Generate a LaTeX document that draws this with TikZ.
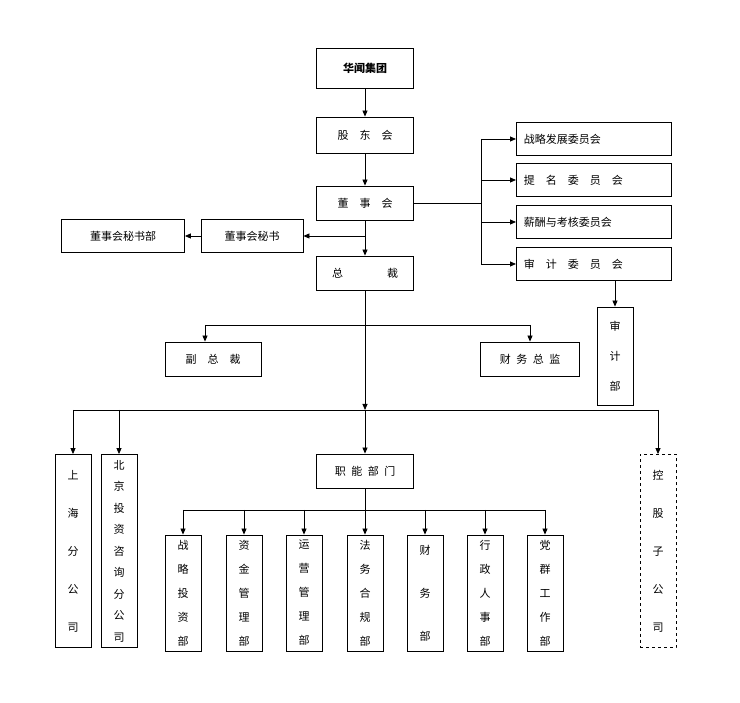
\documentclass[tikz,border=0pt]{standalone}
\usepackage{fontspec}
\setmainfont{Noto Sans CJK SC}
\usetikzlibrary{arrows.meta}
\tikzset{
  box/.style={draw,thick,minimum width=97pt,minimum height=34pt,inner sep=0pt,font=\fontsize{11}{13}\selectfont},
  rbox/.style={box,minimum width=155pt,minimum height=33pt,anchor=west,text width=140pt,align=left},
  vbox/.style={draw,thick,minimum width=36pt,inner sep=0pt,align=center},
  arr/.style={-{Triangle[length=6pt,width=5pt]},thick},
  ln/.style={thick}
}
\begin{document}
\begin{tikzpicture}[x=1pt,y=-1pt]
    \path[use as bounding box] (0,0) rectangle (740,703);
    % Top line.
    \node[box,font=\bfseries\fontsize{11}{13}\selectfont,minimum height=40pt] (group) at (365,68) {华闻集团};
    \node[box,minimum height=36pt] (share) at (365,135) {股\quad 东\quad 会};
    \node[box] (board) at (365,203) {董\quad 事\quad 会};
    \node[box] (ceo) at (365,273) {总\hspace{4em}裁};
    \node[box,minimum width=102pt,minimum height=33pt] (sec) at (252,236) {董事会秘书};
    \node[box,minimum width=123pt,minimum height=33pt] (secdept) at (123,236) {董事会秘书部};
    \draw[arr] (group) -- (share);
    \draw[arr] (share) -- (board);
    \draw[arr] (board) -- (ceo);
    \coordinate (sj) at (365,236);
    \draw[arr] (sj) -- (sec);
    \draw[arr] (sec) -- (secdept);
    % Committees.
    \node[rbox] (c1) at (516,139) {战略发展委员会};
    \node[rbox] (c2) at (516,180) {提\quad 名\quad 委\quad 员\quad 会};
    \node[rbox] (c3) at (516,222) {薪酬与考核委员会};
    \node[rbox] (c4) at (516,264) {审\quad 计\quad 委\quad 员\quad 会};
    \coordinate (cj) at (481,203);
    \draw[ln] (board) -- (cj);
    \draw[ln] (481,139) -- (481,264);
    \foreach \c in {c1,c2,c3,c4}
      \draw[arr] (481,0 |- \c.west) -- (\c.west);
    \node[vbox,minimum height=98pt,font=\fontsize{11}{30}\selectfont] (audit) at (615,356) {审\\计\\部};
    \draw[arr] (615,281) -- (audit);
    % Vice level.
    \node[box,minimum width=96pt] (vp) at (213,359) {副\quad 总\quad 裁};
    \node[box,minimum width=99pt] (cfo) at (530,359) {财\enspace 务\enspace 总\enspace 监};
    \coordinate (vj) at (365,325);
    \draw[ln] (205,325) -- (530,325);
    \draw[arr] (205,325) -- (vp.north -| 205,0);
    \draw[arr] (530,325) -- (cfo);
    \coordinate (bj) at (365,410);
    \draw[arr] (ceo) -- (bj);
    % Branch line.
    \node[box] (func) at (365,471) {职\enspace 能\enspace 部\enspace 门};
    \node[vbox,minimum height=193pt,font=\fontsize{11}{38}\selectfont] (sh) at (73,551) {上\\海\\分\\公\\司};
    \node[vbox,minimum height=193pt,font=\fontsize{11}{21.5}\selectfont] (bj2) at (119,551) {北\\京\\投\\资\\咨\\询\\分\\公\\司};
    \node[vbox,dashed,minimum height=193pt,font=\fontsize{11}{38}\selectfont] (sub) at (658,551) {控\\股\\子\\公\\司};
    \draw[ln] (73,410) -- (658,410);
    \foreach \n in {sh,bj2,func,sub}
      \draw[arr] (bj -| \n) -- (\n);
    % Departments.
    \draw[ln] (func) -- (365,510);
    \draw[ln] (183,510) -- (545,510);
    \foreach \t/\x/\s [count=\i] in {战\\略\\投\\资\\部/183/24,资\\金\\管\\理\\部/244/24,运\\营\\管\\理\\部/304/24,法\\务\\合\\规\\部/365/24,财\\务\\部/425/43,行\\政\\人\\事\\部/485/24,党\\群\\工\\作\\部/545/24}{
      \node[vbox,minimum height=116pt,font=\fontsize{11}{\s}\selectfont] (d\i) at (\x,593) {\t};
      \draw[arr] (\x,510) -- (d\i);
    }
\end{tikzpicture}
\end{document}
